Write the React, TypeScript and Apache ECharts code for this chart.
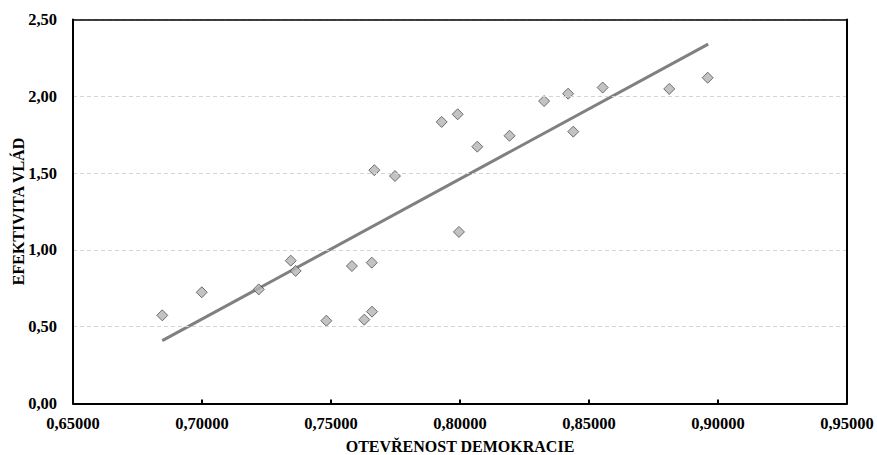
import React, { useEffect, useRef } from "react";
import * as echarts from "echarts";

const openness = [
  0.6846, 0.6999, 0.7220, 0.7344, 0.7363, 0.7482, 0.7581, 0.7629, 0.7659, 0.7658,
  0.7668, 0.7748, 0.7929, 0.7991, 0.7996, 0.8067, 0.8192, 0.8326, 0.8419, 0.8439,
  0.8553, 0.8811, 0.8960,
];
const effectiveness = [
  0.574, 0.724, 0.743, 0.93, 0.863, 0.539, 0.895, 0.546, 0.598, 0.917,
  1.519, 1.481, 1.833, 1.883, 1.117, 1.672, 1.743, 1.969, 2.017, 1.77,
  2.057, 2.048, 2.121,
];
const trendX = [0.6846, 0.8962];
const trendY = [0.409, 2.34];

const xTicks = { min: 0.65, max: 0.95, interval: 0.05 };
const yTicks = { min: 0, max: 2.5, interval: 0.5 };

const xName = "OTEVŘENOST DEMOKRACIE";
const yName = "EFEKTIVITA VLÁD";

export default function App() {
  const ref = useRef<HTMLDivElement>(null);
  useEffect(() => {
    if (!ref.current) return;
    const chart = echarts.init(ref.current, undefined, { renderer: "svg" });
    const font = "'Liberation Serif', 'Times New Roman', serif";
    const labelStyle = { fontFamily: font, fontWeight: "bold", fontSize: 16.5, color: "#000" };
    chart.setOption({
      animation: false,
      backgroundColor: "#ffffff",
      grid: {
        left: 73,
        right: 30,
        top: 19.5,
        bottom: 51.5,
        containLabel: false,
        outerBoundsMode: "none",
      },
      xAxis: [
        {
          type: "value",
          min: xTicks.min,
          max: xTicks.max,
          interval: xTicks.interval,
          name: xName,
          nameLocation: "middle",
          nameGap: 35,
          nameMoveOverlap: false,
          nameTextStyle: { fontFamily: font, fontWeight: "bold", fontSize: 16, color: "#000" },
          axisLine: { show: true, onZero: false, lineStyle: { color: "#000", width: 2 } },
          axisTick: { show: true, inside: true, length: 4, lineStyle: { color: "#000", width: 2 } },
          axisLabel: {
            ...labelStyle,
            margin: 11,
            formatter: (v: number) => v.toFixed(5).replace(".", ","),
          },
          splitLine: { show: false },
          z: 5,
        },
        {
          type: "value",
          position: "top",
          min: xTicks.min,
          max: xTicks.max,
          interval: xTicks.interval,
          axisLine: { show: true, onZero: false, lineStyle: { color: "#000", width: 1.5 } },
          axisTick: { show: false },
          axisLabel: { show: false },
          splitLine: { show: false },
          z: 5,
        },
      ],
      yAxis: [
        {
          type: "value",
          min: yTicks.min,
          max: yTicks.max,
          interval: yTicks.interval,
          name: yName,
          nameLocation: "middle",
          nameGap: 47,
          nameMoveOverlap: false,
          nameRotate: 90,
          nameTextStyle: { fontFamily: font, fontWeight: "bold", fontSize: 16, color: "#000" },
          axisLine: { show: true, onZero: false, lineStyle: { color: "#000", width: 2 } },
          axisTick: { show: false },
          axisLabel: {
            ...labelStyle,
            margin: 16,
            formatter: (v: number) => v.toFixed(2).replace(".", ","),
          },
          splitLine: { show: true, lineStyle: { color: "#d4d4d4", type: [4, 3], width: 1 } },
          z: 5,
        },
        {
          type: "value",
          position: "right",
          min: yTicks.min,
          max: yTicks.max,
          interval: yTicks.interval,
          axisLine: { show: true, onZero: false, lineStyle: { color: "#000", width: 2 } },
          axisTick: { show: false },
          axisLabel: { show: false },
          splitLine: { show: false },
          z: 5,
        },
      ],
      series: [
        {
          type: "line",
          data: trendX.map((x, i) => [x, trendY[i]]),
          showSymbol: false,
          symbol: "none",
          lineStyle: { color: "#808080", width: 3 },
          z: 2,
        },
        {
          type: "scatter",
          data: openness.map((x, i) => [x, effectiveness[i]]),
          symbol: "diamond",
          symbolSize: 11,
          itemStyle: { color: "#b4b4b4", borderColor: "#505050", borderWidth: 1 },
          z: 3,
        },
      ],
    });
    return () => chart.dispose();
  }, []);
  return (
    <div
      ref={ref}
      style={{ position: "absolute", left: 0, top: 0, width: 877, height: 455 }}
    />
  );
}
